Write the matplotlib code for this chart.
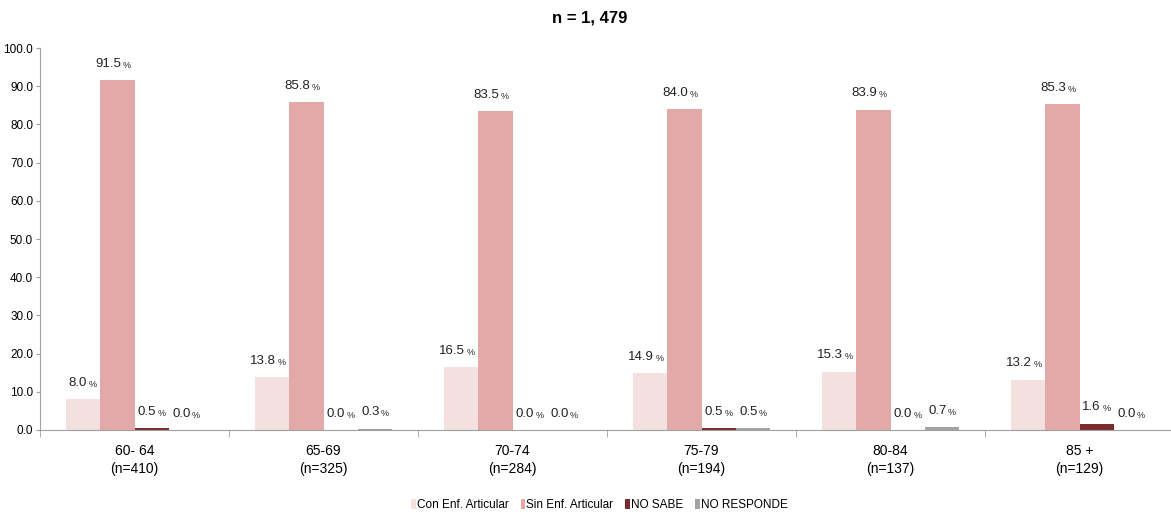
import matplotlib
matplotlib.use("Agg")
import matplotlib.pyplot as plt
import numpy as np

plt.rcParams['font.family'] = ['Liberation Sans', 'DejaVu Sans']

# ─── Data ────────────────────────────────────────────────────────────────────
groups = ["60- 64\n(n=410)", "65-69\n(n=325)", "70-74\n(n=284)",
          "75-79\n(n=194)", "80-84\n(n=137)", "85 +\n(n=129)"]
series = ["Con Enf. Articular", "Sin Enf. Articular", "NO SABE", "NO RESPONDE"]
con_enf = [8.0, 13.8, 16.5, 14.9, 15.3, 13.2]
sin_enf = [91.5, 85.8, 83.5, 84.0, 83.9, 85.3]
no_sabe = [0.5, 0.0, 0.0, 0.5, 0.0, 1.6]
no_resp = [0.0, 0.3, 0.0, 0.5, 0.7, 0.0]
colors = ["#F3E1E0", "#E2A9A8", "#7A2B2B", "#A3A3A3"]
title = "n = 1, 479"

values = [con_enf, sin_enf, no_sabe, no_resp]

# ─── Plot ────────────────────────────────────────────────────────────────────
fig = plt.figure(figsize=(11.71, 5.17), dpi=100)
ax = fig.add_axes([40 / 1171, 1 - 430 / 517, 1134 / 1171, 382 / 517])

x = np.arange(len(groups))
w = 0.1825
for i, (name, vals, c) in enumerate(zip(series, values, colors)):
    pos = x + (i - 1.5) * w
    ax.bar(pos, vals, width=w, color=c, label=name, edgecolor="none")
    for xp, v in zip(pos, vals):
        ax.annotate(f"{v:.1f}", xy=(xp, v), xytext=(3, 7.5), textcoords="offset points",
                    ha="right", va="bottom", fontsize=9.5, color="#222222")
        ax.annotate("%", xy=(xp, v), xytext=(4, 7.5), textcoords="offset points",
                    ha="left", va="bottom", fontsize=6.5, color="#222222")

ax.set_xlim(-0.5, len(groups) - 0.5)
ax.set_ylim(0, 100)
ax.set_yticks(np.arange(0, 101, 10))
ax.set_yticklabels([f"{t:.1f}" for t in np.arange(0, 101, 10)], fontsize=8.5)
ax.set_xticks(x)
ax.set_xticklabels(groups, fontsize=10, linespacing=1.35)
ax.tick_params(axis="x", length=0, pad=10)
ax.set_xticks(np.arange(-0.5, len(groups), 1), minor=True)
ax.tick_params(axis="x", which="minor", length=5, color="#A0A0A0")
ax.tick_params(axis="y", length=3, color="#A0A0A0", pad=2)

for s in ["top", "right"]:
    ax.spines[s].set_visible(False)
for s in ["left", "bottom"]:
    ax.spines[s].set_color("#A0A0A0")

fig.text(0.504, 1 - 18 / 517, title, ha="center", va="center",
         fontsize=12, fontweight="bold")

fig.legend(loc="center", bbox_to_anchor=(0.512, 1 - 505 / 517), ncol=4,
           frameon=False, fontsize=8.5, handlelength=0.4, handleheight=1.0,
           handletextpad=0.1, columnspacing=1.0)

fig.savefig("out.png", dpi=100)
